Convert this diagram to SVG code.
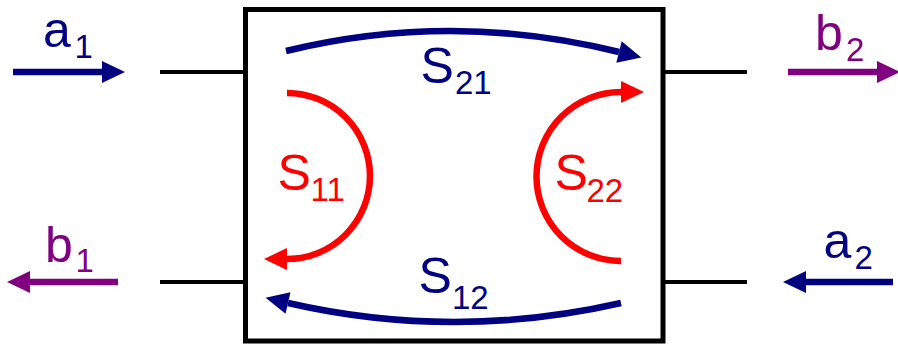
<svg xmlns="http://www.w3.org/2000/svg" width="898" height="345" viewBox="0 0 898 345">
<style>
.t{font-family:"Liberation Sans",Arial,sans-serif;font-size:50px}
.s{font-size:33px}
.navy{fill:#000080}
.red{fill:#FF0000}
.pur{fill:#800080}
.port{stroke:#000;stroke-width:4;fill:none}
.ln{fill:none;stroke-width:6.5}
</style>
<defs>
<marker id="hn" markerUnits="userSpaceOnUse" markerWidth="24" markerHeight="24" refX="0" refY="11" orient="auto" overflow="visible"><path d="M0,0 L23,11 L0,22 z" fill="#000080"/></marker>
<marker id="hr" markerUnits="userSpaceOnUse" markerWidth="24" markerHeight="24" refX="0" refY="11" orient="auto" overflow="visible"><path d="M0,0 L23,11 L0,22 z" fill="#FF0000"/></marker>
<marker id="hp" markerUnits="userSpaceOnUse" markerWidth="24" markerHeight="24" refX="0" refY="11" orient="auto" overflow="visible"><path d="M0,0 L23,11 L0,22 z" fill="#800080"/></marker>
</defs>
<rect width="898" height="345" fill="#fff"/>
<g id="twoport">
<rect x="245.5" y="9.5" width="417.5" height="331.5" fill="#fff" stroke="#000" stroke-width="5"/>
</g>
<g id="ports">
<line class="port" x1="160" y1="72" x2="243" y2="72"/>
<line class="port" x1="160" y1="282" x2="243" y2="282"/>
<line class="port" x1="665" y1="72" x2="747" y2="72"/>
<line class="port" x1="665" y1="282" x2="747" y2="282"/>
</g>
<g id="connectors">
<line class="ln" stroke="#000080" x1="13" y1="72" x2="102" y2="72" marker-end="url(#hn)"/>
<line class="ln" stroke="#800080" x1="118" y1="282" x2="30" y2="282" marker-end="url(#hp)"/>
<line class="ln" stroke="#800080" x1="788" y1="72" x2="877" y2="72" marker-end="url(#hp)"/>
<line class="ln" stroke="#000080" x1="893" y1="282" x2="806" y2="282" marker-end="url(#hn)"/>
<path class="ln" stroke="#000080" d="M286,51 Q452,10.5 619,52" marker-end="url(#hn)"/>
<path class="ln" stroke="#000080" d="M621,303 Q454,341 288,303" marker-end="url(#hn)"/>
<path class="ln" stroke="#FF0000" d="M287,93 A83,83 0 0 1 287,259" marker-end="url(#hr)"/>
<path class="ln" stroke="#FF0000" d="M621,261 A84.5,84.5 0 0 1 621,92" marker-end="url(#hr)"/>
</g>
<g id="label-a1"><text class="t navy"><tspan x="43" y="47">a</tspan><tspan class="s" x="74.5" y="58">1</tspan></text></g>
<g id="label-b1"><text class="t pur"><tspan x="45" y="262">b</tspan><tspan class="s" x="75.5" y="272">1</tspan></text></g>
<g id="label-b2"><text class="t pur"><tspan x="815" y="50">b</tspan><tspan class="s" x="846" y="61">2</tspan></text></g>
<g id="label-a2"><text class="t navy"><tspan x="823.5" y="258">a</tspan><tspan class="s" x="854.5" y="269">2</tspan></text></g>
<g id="label-S21"><text class="t navy"><tspan x="420.5" y="83">S</tspan><tspan class="s" x="455" y="94">21</tspan></text></g>
<g id="label-S12"><text class="t navy"><tspan x="418.5" y="293">S</tspan><tspan class="s" x="452" y="309">12</tspan></text></g>
<g id="label-S11"><text class="t red"><tspan x="277.5" y="190">S</tspan><tspan class="s" x="310.5" y="201">11</tspan></text></g>
<g id="label-S22"><text class="t red"><tspan x="554.5" y="190">S</tspan><tspan class="s" x="586.5" y="202">22</tspan></text></g>
</svg>
